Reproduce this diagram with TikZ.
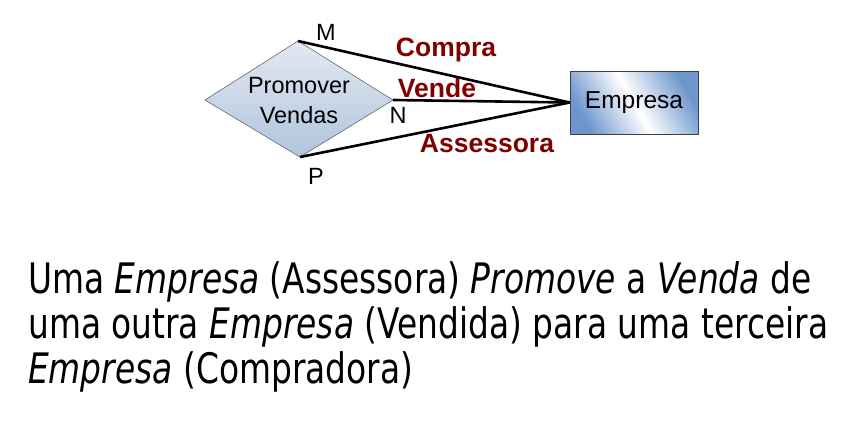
\documentclass[tikz,border=0pt]{standalone}
\usepackage{fontspec}
\setmainfont{Liberation Sans}
\newfontfamily\tah[FakeStretch=0.8]{DejaVu Sans}
\usetikzlibrary{shapes.geometric}
\definecolor{relred}{RGB}{128,0,0}
\definecolor{entblue}{RGB}{110,150,205}
\definecolor{dtop}{RGB}{226,233,242}
\definecolor{dbot}{RGB}{176,196,220}
\newlength\linelen
\newsavebox\measurebox
\begin{document}
\sbox\measurebox{\tah\fontsize{42}{46}\selectfont uma outra \textit{Empresa} (Vendida) para uma terceira}%
\setlength\linelen{\wd\measurebox}%
\pgfmathsetmacro\fac{800/\linelen}%
\begin{tikzpicture}[x=1pt,y=-1pt,
  conn/.style={line width=2.6pt,black},
  card/.style={font=\fontsize{23.5}{26}\selectfont,inner sep=0pt},
  rel/.style={font=\fontsize{26.5}{30}\selectfont\bfseries,text=relred,inner sep=0pt},
  txt/.style={anchor=base west,inner sep=0pt,font=\tah\fontsize{42}{46}\selectfont}]
\useasboundingbox (0,0) rectangle (857,429);
% diamond
\coordinate (dl) at (205,100);
\coordinate (dt) at (298,41);
\coordinate (dr) at (393,100);
\coordinate (db) at (300,157);
\shade[top color=dtop,bottom color=dbot,draw=gray!80!black,line width=0.6pt]
  (dl) -- (dt) -- (dr) -- (db) -- cycle;
\node[align=center,font=\fontsize{23.5}{30}\selectfont,inner sep=0pt] (rel) at (299,101) {Promover\\Vendas};
% entity
\node[draw=black!75,line width=0.8pt,minimum width=128pt,minimum height=63pt,inner sep=0pt,
  left color=entblue,right color=entblue,middle color=white,shading angle=-60,
  font=\fontsize{24.5}{28}\selectfont] (emp) at (634,102.5) {Empresa};
% connectors
\draw[conn] (dt) -- (emp.west);
\draw[conn] (dr) -- (emp.west);
\draw[conn] (db) -- (emp.west);
% cardinalities
\node[card] (m) at (326,32) {M};
\node[card] (n) at (398,115) {N};
\node[card] (p) at (316,176) {P};
% role labels
\node[rel] (compra) at (446,50) {Compra};
\node[rel] (vende) at (437,88) {Vende};
\node[rel] (assess) at (487,144) {Assessora};
% bottom text
\node[txt] (l1) at (28,293) {\scalebox{\fac}[1]{Uma \textit{Empresa} (Assessora) \textit{Promove} a \textit{Venda} de}};
\node[txt] (l2) at (28,338) {\scalebox{\fac}[1]{uma outra \textit{Empresa} (Vendida) para uma terceira}};
\node[txt] (l3) at (28,383) {\scalebox{\fac}[1]{\textit{Empresa} (Compradora)}};
\end{tikzpicture}
\end{document}
